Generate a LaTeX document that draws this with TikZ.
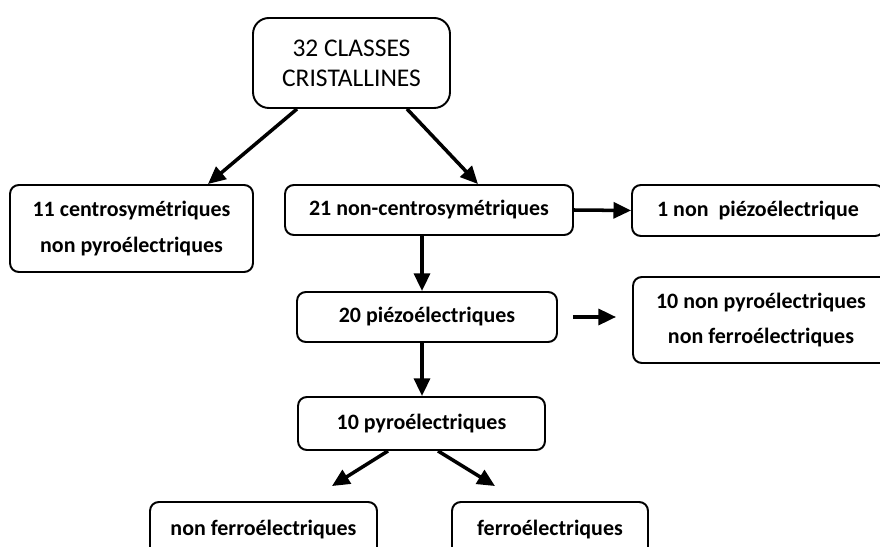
\documentclass[tikz,border=0pt]{standalone}
\usepackage{fontspec}
\setmainfont{Carlito}
\usetikzlibrary{arrows.meta}

\tikzset{
  box/.style={draw,line width=1.1pt,rounded corners=5pt,align=center,inner sep=0pt,
    font=\fontsize{12.5}{20}\selectfont\bfseries},
  arr/.style={-{Triangle[length=10pt,width=9pt]},line width=2pt}
}

\begin{document}
\begin{tikzpicture}[x=0.02cm,y=-0.02cm]
  \useasboundingbox (0,0) rectangle (880,547);
  \clip (0,0) rectangle (880,547);

  % boxes
  \node[box,rounded corners=9pt,minimum width=3.94cm,minimum height=1.8cm,
    font=\fontsize{14.5}{17}\selectfont] (top) at (351.5,63) {32 CLASSES\\CRISTALLINES};
  \node[box,minimum width=4.86cm,minimum height=1.74cm] (cs11) at (131.5,228.5)
    {11 centrosymétriques\\non pyroélectriques};
  \node[box,minimum width=5.76cm,minimum height=1.0cm] (nc21) at (429,210) {21 non-centrosymétriques};
  \node[box,minimum width=5.04cm,minimum height=1.02cm] (np1) at (758,210.5) {1 non\ \ piézoélectrique};
  \node[box,minimum width=5.2cm,minimum height=1.0cm] (pz20) at (427,317) {20 piézoélectriques};
  \node[box,minimum width=5.12cm,minimum height=1.72cm] (npy10) at (761,320)
    {10 non pyroélectriques\\non ferroélectriques};
  \node[box,minimum width=4.94cm,minimum height=1.06cm] (py10) at (421.5,423.5) {10 pyroélectriques};
  \node[box,minimum width=4.54cm,minimum height=1.12cm] (nfe) at (263.5,530) {non ferroélectriques};
  \node[box,minimum width=3.92cm,minimum height=1.12cm] (fe) at (550,530) {ferroélectriques};

  % arrows
  \draw[arr] ([xshift=-1.09cm]top.south) -- ([xshift=1.53cm]cs11.north);
  \draw[arr] ([xshift=1.11cm]top.south) -- ([xshift=0.98cm]nc21.north);
  \draw[arr] (nc21.east) -- (np1.west);
  \draw[arr] ([xshift=-0.14cm]nc21.south) -- ([xshift=-0.14cm]nc21.south |- pz20.north);
  \draw[arr] ([xshift=0.3cm]pz20.east) -- ([xshift=-0.32cm]npy10.west |- pz20.east);
  \draw[arr] ([xshift=-0.1cm]pz20.south) -- ([xshift=-0.1cm]pz20.south |- py10.north);
  \draw[arr] ([xshift=-0.67cm]py10.south) -- ([xshift=1.37cm,yshift=0.3cm]nfe.north);
  \draw[arr] ([xshift=0.33cm]py10.south) -- ([xshift=-1.1cm,yshift=0.3cm]fe.north);
\end{tikzpicture}
\end{document}
